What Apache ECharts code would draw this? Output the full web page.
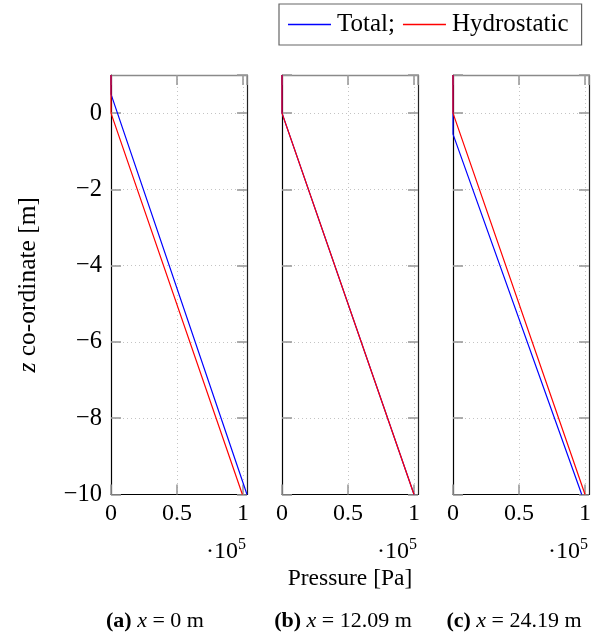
<!DOCTYPE html>
<html>
<head>
<meta charset="utf-8">
<script src="https://cdn.jsdelivr.net/npm/echarts@6/dist/echarts.min.js"></script>
<style>html,body{margin:0;padding:0;background:#fff}#c{width:603px;height:639px}</style>
</head>
<body>
<div id="c"></div>
<script>
// ---- data ----
const seriesNames = ['Total', 'Hydrostatic'];
const captionTags = ['(a)', '(b)', '(c)'];
const captionXs = ['0', '12.09', '24.19'];
// pressure [Pa] / z [m] vertices per panel
const totalP = [[0, 0, 103000], [0, 0, 100000], [0, 0, 97500]];
const totalZ = [[1, 0.5, -10], [1, 0, -10], [1, -0.55, -10]];
const hydroP = [[0, 0, 99500], [0, 0, 100000], [0, 0, 100000]];
const hydroZ = [[1, 0, -10], [1, 0, -10], [1, 0, -10]];
const pMin = 0, pMax = 103000, pStep = 50000;
const zMin = -10, zMax = 1, zStep = 2;

const FONT = 'Liberation Serif, DejaVu Serif, serif';
const gridLefts = [111, 282, 453];
const gridW = 136, gridTop = 75, gridH = 419.5;

const pairs = (xs, ys) => xs.map((x, i) => [x, ys[i]]);

const grids = [], xAxes = [], yAxes = [], series = [], graphics = [];
const tickStyle = {show: true, inside: true, length: 10, lineStyle: {color: '#9a9a9a', width: 1.6}};
const gridLine = {show: true, lineStyle: {color: '#c4c4c4', type: [1, 3], width: 1}};

for (let i = 0; i < 3; i++) {
  grids.push({left: gridLefts[i], top: gridTop, width: gridW, height: gridH, containLabel: false});
  // bottom x axis
  xAxes.push({
    type: 'value', gridIndex: i, position: 'bottom', min: pMin, max: pMax, interval: pStep,
    axisLine: {show: true, onZero: false, lineStyle: {color: '#000', width: 1.2}},
    axisTick: tickStyle,
    splitLine: gridLine,
    axisLabel: {show: true, margin: 7, color: '#000', fontFamily: FONT, fontSize: 24, showMaxLabel: false,
      formatter: v => (v % pStep === 0 ? String(v / 1e5) : '')},
    name: i === 1 ? 'Pressure [Pa]' : '', nameLocation: 'middle', nameGap: 72,
    nameTextStyle: {color: '#000', fontFamily: FONT, fontSize: 23.5}
  });
  // left y axis
  yAxes.push({
    type: 'value', gridIndex: i, position: 'left', min: zMin, max: zMax, interval: zStep,
    axisLine: {show: true, onZero: false, lineStyle: {color: '#000', width: 1.2}},
    axisTick: tickStyle,
    splitLine: gridLine,
    axisLabel: {show: i === 0, margin: 9, color: '#000', fontFamily: FONT, fontSize: 24.5, showMaxLabel: false,
      formatter: v => (v === zMax ? '' : String(v).replace('-', '\u2212'))},
    name: i === 0 ? '{i|z} co-ordinate [m]' : '', nameLocation: 'middle', nameGap: 70,
    nameTextStyle: {color: '#000', fontFamily: FONT, fontSize: 25.5,
      rich: {i: {fontStyle: 'italic', fontFamily: FONT, fontSize: 25.5, color: '#000'}}}
  });
}
for (let i = 0; i < 3; i++) {
  // top x axis (frame)
  xAxes.push({
    type: 'value', gridIndex: i, position: 'top', min: pMin, max: pMax, interval: pStep,
    axisLine: {show: true, onZero: false, lineStyle: {color: '#8a8a8a', width: 1.4}},
    axisTick: tickStyle, splitLine: {show: false}, axisLabel: {show: false}
  });
  // right y axis (frame)
  yAxes.push({
    type: 'value', gridIndex: i, position: 'right', min: zMin, max: zMax, interval: zStep,
    axisLine: {show: true, onZero: false, lineStyle: {color: '#222', width: 1.2}},
    axisTick: tickStyle, splitLine: {show: false}, axisLabel: {show: false}
  });
}
for (let i = 0; i < 3; i++) {
  series.push({
    name: seriesNames[0], type: 'line', xAxisIndex: i, yAxisIndex: i, data: pairs(totalP[i], totalZ[i]),
    symbol: 'none', clip: false, lineStyle: {color: '#0000ff', width: 1.2}, itemStyle: {color: '#0000ff'}, z: 3
  });
  series.push({
    name: seriesNames[1], type: 'line', xAxisIndex: i, yAxisIndex: i, data: pairs(hydroP[i], hydroZ[i]),
    symbol: 'none', clip: false, lineStyle: {color: '#ff0000', width: 1.2}, itemStyle: {color: '#ff0000'}, z: 4
  });
  // ·10^5 multiplier
  graphics.push({
    type: 'text', x: gridLefts[i] + gridW - 1, y: 552,
    style: {text: '·10{s|5}', fill: '#000', font: '24px ' + FONT, align: 'right', verticalAlign: 'middle',
      rich: {s: {fontSize: 16, fontFamily: FONT, fill: '#000', verticalAlign: 'top', padding: [0, 0, 14, 0]}}}
  });
  // captions
  graphics.push({
    type: 'text', x: gridLefts[i] + gridW / 2 - (i === 0 ? 24 : 7), y: 621,
    style: {text: '{b|' + captionTags[i] + '} {i|x} = ' + captionXs[i] + ' m', fill: '#000',
      font: '22px ' + FONT, align: 'center', verticalAlign: 'middle',
      rich: {b: {fontWeight: 'bold', fontFamily: FONT, fontSize: 22, fill: '#000'},
             i: {fontStyle: 'italic', fontFamily: FONT, fontSize: 22, fill: '#000'}}}
  });
}

const chart = echarts.init(document.getElementById('c'), null, {renderer: 'canvas'});
chart.setOption({
  animation: false,
  backgroundColor: '#fff',
  legend: {
    data: seriesNames, left: 279, top: 4, orient: 'horizontal',
    icon: 'rect', itemWidth: 43, itemHeight: 1.3, itemGap: 8,
    padding: [8, 13, 8, 9], borderColor: '#666', borderWidth: 1.2,
    textStyle: {color: '#000', fontFamily: FONT, fontSize: 25, padding: [0, 0, 0, 1]},
    formatter: n => (n === 'Total' ? 'Total;' : n),
    selectedMode: false
  },
  grid: grids, xAxis: xAxes, yAxis: yAxes, series: series, graphic: graphics
});
</script>
</body>
</html>
